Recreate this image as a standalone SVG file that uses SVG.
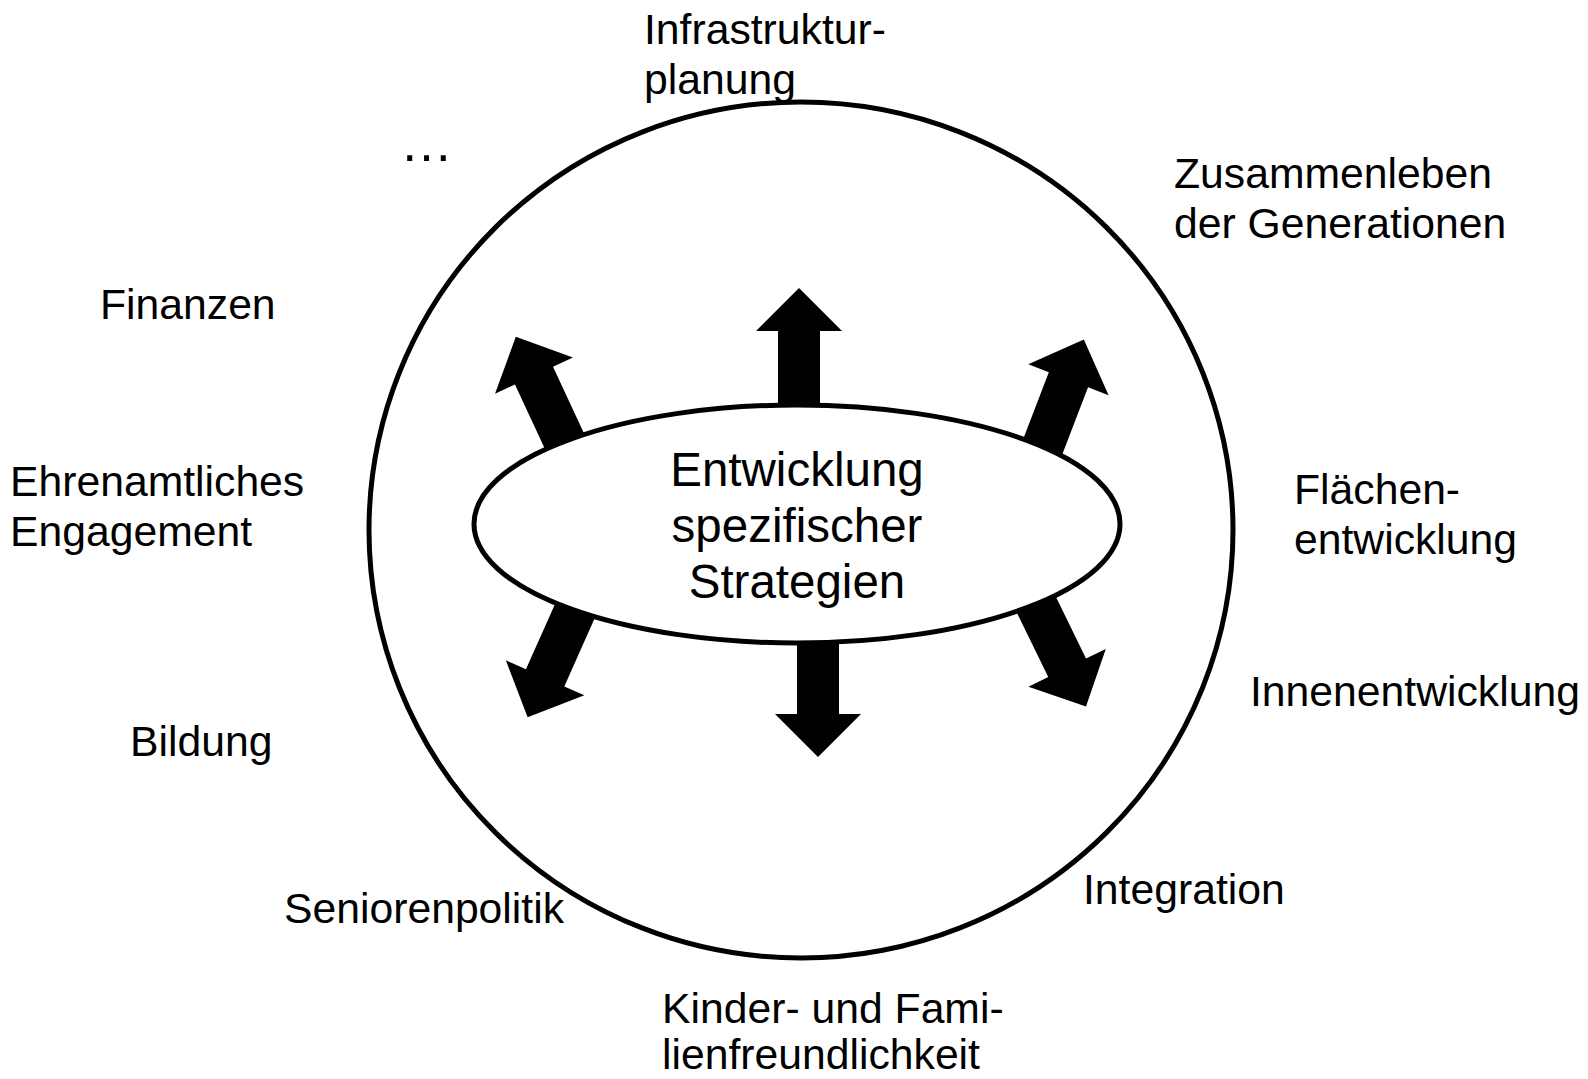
<svg xmlns="http://www.w3.org/2000/svg" width="1588" height="1079" viewBox="0 0 1588 1079">
<style>
text{font-family:"Liberation Sans",Arial,sans-serif;fill:#000}
.lbl{font-size:42.7px}
.ctr{font-size:47.5px;text-anchor:middle}
.ring{fill:none;stroke:#000;stroke-width:5}
.core{fill:#fff;stroke:#000;stroke-width:5}
</style>
<defs>
<path id="arr" d="M-21,8 L-21,-71 L-43,-71 L0,-114 L43,-71 L21,-71 L21,8 Z" fill="#000"/>
</defs>
<rect width="1588" height="1079" fill="#fff"/>
<g id="outer-ring"><ellipse class="ring" cx="801" cy="530" rx="432" ry="428"/></g>
<g id="connectors">
<use href="#arr" transform="translate(799,402)"/>
<use href="#arr" transform="translate(564,440) rotate(-25)"/>
<use href="#arr" transform="translate(1043,446) rotate(21)"/>
<use href="#arr" transform="translate(818,643) rotate(180)"/>
<use href="#arr" transform="translate(574,613) rotate(204)"/>
<use href="#arr" transform="translate(1036,604) rotate(154)"/>
</g>
<g id="center">
<ellipse class="core" cx="797" cy="524" rx="323" ry="119"/>
<text class="ctr" x="797" y="486">Entwicklung</text>
<text class="ctr" x="797" y="542">spezifischer</text>
<text class="ctr" x="797" y="598">Strategien</text>
</g>
<g id="infrastruktur"><text class="lbl" x="644" y="44">Infrastruktur-</text><text class="lbl" x="644" y="94">planung</text></g>
<g id="ellipsis"><text class="lbl" x="400" y="161" style="font-size:53px">…</text></g>
<g id="zusammenleben"><text class="lbl" x="1174" y="188">Zusammenleben</text><text class="lbl" x="1174" y="238">der Generationen</text></g>
<g id="finanzen"><text class="lbl" x="100" y="319">Finanzen</text></g>
<g id="ehrenamt"><text class="lbl" x="10" y="496">Ehrenamtliches</text><text class="lbl" x="10" y="546">Engagement</text></g>
<g id="flaechen"><text class="lbl" x="1294" y="504">Flächen-</text><text class="lbl" x="1294" y="554">entwicklung</text></g>
<g id="innen"><text class="lbl" x="1250" y="706">Innenentwicklung</text></g>
<g id="bildung"><text class="lbl" x="130" y="756">Bildung</text></g>
<g id="integration"><text class="lbl" x="1083" y="904">Integration</text></g>
<g id="senioren"><text class="lbl" x="284" y="923">Seniorenpolitik</text></g>
<g id="kinder"><text class="lbl" x="662" y="1023">Kinder- und Fami-</text><text class="lbl" x="662" y="1069">lienfreundlichkeit</text></g>
</svg>
